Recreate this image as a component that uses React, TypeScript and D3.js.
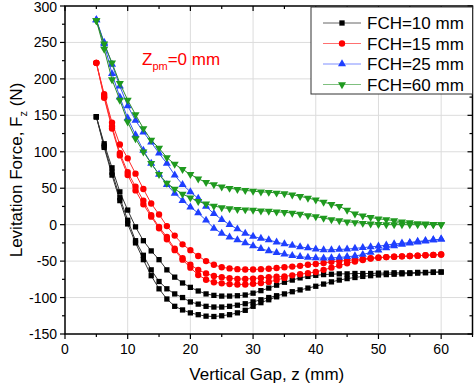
import React from "react";
import * as d3 from "d3";

const zGrid = [5, 6.25, 7.5, 8.75, 10, 11.25, 12.5, 13.75, 15, 16.25, 17.5, 18.75, 20, 21.25, 22.5, 23.75, 25, 26.25, 27.5, 28.75, 30, 31.25, 32.5, 33.75, 35, 36.25, 37.5, 38.75, 40, 41.25, 42.5, 43.75, 45, 46.25, 47.5, 48.75, 50, 51.25, 52.5, 53.75, 55, 56.25, 57.5, 58.75, 60];

const fch10A = [148, 111, 78, 45, 20, -3, -22, -36, -48, -62, -72, -80, -86, -91, -95, -97, -98, -98, -97.5, -96.5, -94, -90.5, -87, -83, -79, -76, -73, -71, -69.5, -68.5, -68, -67.5, -67.5, -67, -67, -67, -66.5, -66.5, -66, -66, -66, -65.5, -65.5, -65, -65];
const fch10B = [148, 108, 72, 37, 6, -22, -42, -62, -78, -88, -95, -100, -106, -109, -112, -113, -113, -112, -110.5, -108.5, -106, -103, -100, -97.5, -95, -92, -89.5, -87, -84.5, -81.5, -78.5, -76, -74, -72.5, -71, -70, -69, -68.5, -68, -67.5, -67, -66.5, -66, -65.5, -65];
const fch10C = [148, 106, 68, 33, 1, -25, -48, -70, -88, -102, -112, -117, -121, -123.5, -125.5, -126, -125, -123.5, -121, -117.5, -112, -107, -103, -99];

const fch15A = [222, 179, 140, 110, 91, 70, 49, 29, 14, -2, -15, -27, -35, -43, -50, -55, -58.5, -60, -61, -61.5, -61.5, -61, -60.5, -59.5, -58.5, -57.5, -56.5, -55, -54, -52.5, -51, -50, -49, -48, -47, -46, -45, -44.5, -44, -43.5, -43, -42.5, -42, -41.5, -41];
const fch15B = [222, 176, 135, 98, 72, 52, 33, 13, -3, -17, -33, -46, -55, -62, -67, -70.5, -72, -73.5, -74.5, -74.5, -74, -73, -72, -71.5, -71, -69.5, -68, -66.5, -65, -62, -59, -56, -53, -50.5, -48.5, -46.5, -45.5, -44.5, -44, -43.5, -43, -42.5, -42, -41.5, -41];
const fch15C = [222, 174, 132, 95, 68, 47, 28, 11, -5, -20, -35, -48, -59, -69, -75.5, -79, -80.5, -81.5, -82, -82, -81, -80, -78.5, -76, -73];

const fch25A = [281, 250, 220, 190, 163, 143, 127, 113, 98, 84, 68, 55, 45, 36, 25, 15, 7, 0, -6, -12, -16, -19, -21, -24, -26.5, -28.5, -30.5, -32, -33.5, -34.5, -34.5, -34, -33.5, -32.5, -31.5, -30.5, -29.5, -28, -26.5, -25.5, -24.5, -23, -22, -21, -20];
const fch25B = [281, 248, 207, 175, 146, 123, 102, 84, 69, 55, 43, 33, 24, 16, 6, -5, -12, -17, -21, -25, -29, -33, -36, -38.5, -40.5, -42.5, -44, -45, -45.5, -46, -45.5, -45, -44, -43, -41, -38, -35, -32, -29, -27, -25.5, -24, -22.5, -21, -20];

const fch60A = [280, 248, 222, 194, 171, 151, 132, 116, 105, 92, 83, 76, 69, 63, 58, 55, 52, 50, 48.5, 47, 46, 45, 44.5, 43.5, 42.5, 41, 39, 36.5, 34, 31, 28, 25, 20, 15, 12, 10, 8, 7, 5.5, 4, 3, 1.5, 1, 0.5, 0];
const fch60B = [280, 241, 199, 171, 141, 118, 100, 84, 69, 57, 49, 42, 37, 32, 28.5, 25.5, 23.5, 22, 21, 20.5, 20, 19, 18.5, 17.5, 17, 16, 14.5, 12.5, 11, 9, 7, 5.5, 4, 3, 2, 1, 0.5, 0, 0, 0, 0, 0, 0, 0, 0];

const legendLabels = ["FCH=10 mm", "FCH=15 mm", "FCH=25 mm", "FCH=60 mm"];
const xTicks = [0, 10, 20, 30, 40, 50, 60];
const yTicks = [-150, -100, -50, 0, 50, 100, 150, 200, 250, 300];

const W = 474, H = 386;
const L = 65, R = 472.5, T = 6, B = 334;

const series = [
  { label: legendLabels[0], curves: [fch10A, fch10B, fch10C], fill: "#000000", line: "#333333", legendLine: "#666666", shape: "square" },
  { label: legendLabels[1], curves: [fch15A, fch15B, fch15C], fill: "#ff0000", line: "#ff2a2a", legendLine: "#ff7070", shape: "circle" },
  { label: legendLabels[2], curves: [fch25A, fch25B], fill: "#1f3fff", line: "#3355ee", legendLine: "#7f8fff", shape: "up" },
  { label: legendLabels[3], curves: [fch60A, fch60B], fill: "#1f9a1f", line: "#2a8a2a", legendLine: "#7fc07f", shape: "down" },
];

function symbolPath(shape: string) {
  if (shape === "square") return d3.symbol().type(d3.symbolSquare).size(28)()!;
  if (shape === "circle") return d3.symbol().type(d3.symbolCircle).size(32)()!;
  return d3.symbol().type(d3.symbolTriangle).size(28)()!;
}

export default function App() {
  const x = d3.scaleLinear().domain([0, 65]).range([L, R]);
  const y = d3.scaleLinear().domain([-150, 300]).range([B, T]);
  const font = "Liberation Sans, Arial, sans-serif";
  const line = d3.line<[number, number]>().x(d => x(d[0])).y(d => y(d[1]));

  const xMinor = d3.range(0, 66, 5);
  const yMinor = d3.range(-150, 301, 25);

  return (
    <svg width={W} height={H} style={{ position: "absolute", left: 0, top: 0, background: "#fff" }} fontFamily={font}>
      <rect x={0} y={0} width={W} height={H} fill="#fff" />
      {xTicks.filter(t => t > 0).map(t => (
        <line key={"gx" + t} x1={x(t)} x2={x(t)} y1={T} y2={B} stroke="#dcdcdc" strokeWidth={1} />
      ))}
      {yTicks.filter(t => t > -150 && t < 300).map(t => (
        <line key={"gy" + t} x1={L} x2={R} y1={y(t)} y2={y(t)} stroke="#dcdcdc" strokeWidth={1} />
      ))}
      {series.map((s, si) => (
        <g key={"s" + si}>
          {s.curves.map((c, ci) => {
            const pts = c.map((v, i) => [zGrid[i], v] as [number, number]);
            return <path key={"l" + ci} d={line(pts)!} fill="none" stroke={s.line} strokeWidth={1} />;
          })}
          {s.curves.map((c, ci) =>
            c.map((v, i) => (
              <path key={"m" + ci + "-" + i} d={symbolPath(s.shape)} fill={s.fill}
                transform={`translate(${x(zGrid[i])},${y(v)})${s.shape === "down" ? " rotate(180)" : ""}`} />
            ))
          )}
        </g>
      ))}
      <rect x={L} y={T} width={R - L} height={B - T} fill="none" stroke="#000" strokeWidth={1.5} />
      {xMinor.map(t => {
        const major = t % 10 === 0;
        const len = major ? 5 : 3;
        return (
          <g key={"xt" + t}>
            <line x1={x(t)} x2={x(t)} y1={B} y2={B + len} stroke="#000" strokeWidth={1.2} />
            <line x1={x(t)} x2={x(t)} y1={T} y2={T + len} stroke="#000" strokeWidth={1.2} />
          </g>
        );
      })}
      {yMinor.map(t => {
        const major = t % 50 === 0;
        const len = major ? 5 : 3;
        return (
          <g key={"yt" + t}>
            <line x1={L - len} x2={L} y1={y(t)} y2={y(t)} stroke="#000" strokeWidth={1.2} />
            <line x1={R - len} x2={R} y1={y(t)} y2={y(t)} stroke="#000" strokeWidth={1.2} />
          </g>
        );
      })}
      {xTicks.map(t => (
        <text key={"xl" + t} x={x(t)} y={B + 20} textAnchor="middle" fontSize={14} fill="#000">{t}</text>
      ))}
      {yTicks.map(t => (
        <text key={"yl" + t} x={L - 8} y={Math.max(y(t) + 5, 12)} textAnchor="end" fontSize={14} fill="#000">{t}</text>
      ))}
      <text x={(L + R) / 2 - 2} y={380} textAnchor="middle" fontSize={17} fill="#000">Vertical Gap, z (mm)</text>
      <text transform={`translate(22,${(T + B) / 2}) rotate(-90)`} textAnchor="middle" fontSize={17} fill="#000">
        Levitation Force, F<tspan fontSize={11} dy={5}>z</tspan><tspan dy={-5}> (N)</tspan>
      </text>
      <text x={142} y={65} fontSize={17} fill="#ff0000">
        Z<tspan fontSize={11} dy={5}>pm</tspan><tspan dy={-5}>=0 mm</tspan>
      </text>
      <rect x={311} y={7} width={R - 311} height={87} fill="#fff" stroke="#333" strokeWidth={1} />
      {series.map((s, i) => {
        const ly = 23 + i * 20.5;
        return (
          <g key={"lg" + i}>
            <line x1={323} x2={361} y1={ly} y2={ly} stroke={s.legendLine} strokeWidth={1} />
            <path d={symbolPath(s.shape)} fill={s.fill}
              transform={`translate(342,${ly})${s.shape === "down" ? " rotate(180)" : ""}`} />
            <text x={367} y={ly + 6} fontSize={17} fill="#000">{s.label}</text>
          </g>
        );
      })}
    </svg>
  );
}
